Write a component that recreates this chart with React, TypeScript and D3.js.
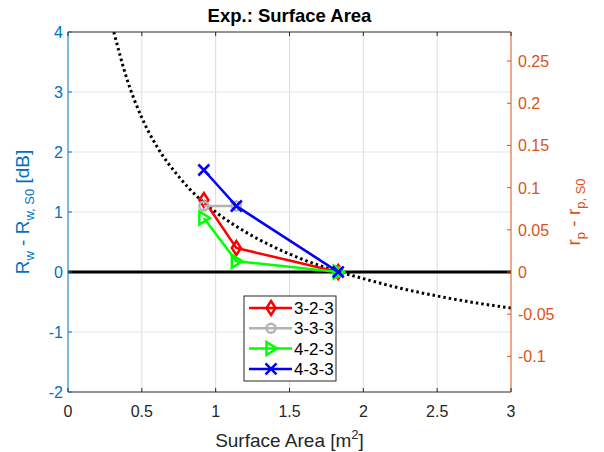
import * as d3 from "d3";

// surface area [m^2] of the measured configurations
const areas = [0.92, 1.14, 1.83];
const seriesNames = ["3-2-3", "3-3-3", "4-2-3", "4-3-3"];
const seriesColors = ["#ff0000", "#b3b3b3", "#00ff00", "#0000ff"];
const seriesMarkers = ["diamond", "circle", "triangle", "x"];
const r323 = [1.2, 0.4, 0];
const r333 = [1.1, 1.1, 0];
const r423 = [0.9, 0.18, 0];
const r433 = [1.7, 1.1, 0];
const seriesValues = [r323, r333, r423, r433];

// dotted reference curve
const curveS = [0.31, 0.4, 0.5, 0.6, 0.75, 0.9, 1.0, 1.2, 1.4, 1.6, 1.84, 2.0, 2.25, 2.5, 2.75, 3.0];
const curveR = [4.0, 3.21, 2.57, 2.1, 1.59, 1.2, 1.0, 0.67, 0.41, 0.2, 0, -0.11, -0.27, -0.4, -0.51, -0.6];

const xTicks = [0, 0.5, 1, 1.5, 2, 2.5, 3];
const yTicks = [-2, -1, 0, 1, 2, 3, 4];
const y2Ticks = [-0.1, -0.05, 0, 0.05, 0.1, 0.15, 0.2, 0.25];

const W = 604;
const H = 452;
const m = { l: 68, r: 511, t: 32, b: 392 };
const font = "'Liberation Sans', Arial, Helvetica, sans-serif";
const blue = "#0072bd";
const orange = "#d95319";

function Marker({ kind, x, y, color }: { kind: string; x: number; y: number; color: string }) {
  if (kind === "diamond")
    return <path d={`M${x},${y - 7}L${x + 4.5},${y}L${x},${y + 7}L${x - 4.5},${y}Z`} fill="none" stroke={color} strokeWidth={2.5} />;
  if (kind === "circle") return <circle cx={x} cy={y} r={4.5} fill="none" stroke={color} strokeWidth={2.5} />;
  if (kind === "triangle")
    return <path d={`M${x - 4.5},${y - 6.5}L${x + 6},${y}L${x - 4.5},${y + 6.5}Z`} fill="none" stroke={color} strokeWidth={2.5} />;
  return (
    <path d={`M${x - 5.5},${y - 5.5}L${x + 5.5},${y + 5.5}M${x - 5.5},${y + 5.5}L${x + 5.5},${y - 5.5}`} stroke={color} strokeWidth={2.5} />
  );
}

export default function App() {
  const x = d3.scaleLinear().domain([0, 3]).range([m.l, m.r]);
  const y = d3.scaleLinear().domain([-2, 4]).range([m.b, m.t]);
  const y2 = d3.scaleLinear().domain([-0.1422, 0.2844]).range([m.b, m.t]);

  const line = d3
    .line<number>()
    .x((_, i) => x(areas[i]))
    .y((d) => y(d));
  const curve = d3
    .line<number>()
    .x((_, i) => x(curveS[i]))
    .y((d) => y(d))
    .curve(d3.curveMonotoneX);

  const legX = 244;
  const legY = 296;

  return (
    <svg width={W} height={H} style={{ position: "absolute", left: 0, top: 0, fontFamily: font }}>
      <rect width={W} height={H} fill="#fff" />
      <defs>
        <clipPath id="plot">
          <rect x={m.l} y={m.t} width={m.r - m.l} height={m.b - m.t} />
        </clipPath>
      </defs>
      {/* grid */}
      {xTicks.slice(1, -1).map((t) => (
        <line key={t} x1={x(t)} x2={x(t)} y1={m.t} y2={m.b} stroke="#dcdcdc" strokeWidth={1} />
      ))}
      {yTicks.slice(1, -1).map((t) => (
        <line key={t} x1={m.l} x2={m.r} y1={y(t)} y2={y(t)} stroke="#d9e7f3" strokeWidth={1} />
      ))}
      <g clipPath="url(#plot)">
        <path d={curve(curveR) ?? ""} fill="none" stroke="#000" strokeWidth={3} strokeDasharray="2.5,3" />
      </g>
      <line x1={m.l} x2={m.r} y1={y(0)} y2={y(0)} stroke="#000" strokeWidth={3} />
      {seriesValues.map((vals, s) => (
        <g key={s}>
          <path d={line(vals) ?? ""} fill="none" stroke={seriesColors[s]} strokeWidth={2.5} />
          {vals.map((v, i) => (
            <Marker key={i} kind={seriesMarkers[s]} x={x(areas[i])} y={y(v)} color={seriesColors[s]} />
          ))}
        </g>
      ))}
      {/* box */}
      <line x1={m.l} x2={m.r} y1={m.t} y2={m.t} stroke="#262626" />
      <line x1={m.l} x2={m.r} y1={m.b} y2={m.b} stroke="#262626" />
      <line x1={m.l} x2={m.l} y1={m.t} y2={m.b} stroke={blue} />
      <line x1={m.r} x2={m.r} y1={m.t} y2={m.b} stroke={orange} />
      {/* x ticks */}
      {xTicks.map((t) => (
        <g key={t}>
          <line x1={x(t)} x2={x(t)} y1={m.b} y2={m.b - 4} stroke="#262626" />
          <line x1={x(t)} x2={x(t)} y1={m.t} y2={m.t + 4} stroke="#262626" />
          <text x={x(t)} y={417} textAnchor="middle" fontSize={16} fill="#262626">
            {t}
          </text>
        </g>
      ))}
      {yTicks.map((t) => (
        <g key={t}>
          <line x1={m.l} x2={m.l + 4} y1={y(t)} y2={y(t)} stroke={blue} />
          <text x={63} y={y(t) + 6} textAnchor="end" fontSize={16} fill={blue}>
            {t}
          </text>
        </g>
      ))}
      {y2Ticks.map((t) => (
        <g key={t}>
          <line x1={m.r} x2={m.r - 4} y1={y2(t)} y2={y2(t)} stroke={orange} />
          <text x={518} y={y2(t) + 6} fontSize={16} fill={orange}>
            {t}
          </text>
        </g>
      ))}
      {/* labels */}
      <text x={(m.l + m.r) / 2} y={22} textAnchor="middle" fontSize={18.5} fontWeight="bold" fill="#000">
        Exp.: Surface Area
      </text>
      <text x={(m.l + m.r) / 2} y={447} textAnchor="middle" fontSize={19} fill="#262626">
        Surface Area [m<tspan dy={-8} fontSize={13}>2</tspan>
        <tspan dy={8}>]</tspan>
      </text>
      <text transform={`translate(29,${(m.t + m.b) / 2}) rotate(-90)`} textAnchor="middle" fontSize={19} fill={blue}>
        R<tspan dy={5} fontSize={13}>w</tspan>
        <tspan dy={-5}> - R</tspan>
        <tspan dy={5} fontSize={13}>w, S0</tspan>
        <tspan dy={-5}> [dB]</tspan>
      </text>
      <text transform={`translate(580,${(m.t + m.b) / 2}) rotate(-90)`} textAnchor="middle" fontSize={19} fill={orange}>
        r<tspan dy={5} fontSize={13}>p</tspan>
        <tspan dy={-5}> - r</tspan>
        <tspan dy={5} fontSize={13}>p, S0</tspan>
      </text>
      {/* legend */}
      <rect x={legX} y={legY} width={92} height={85} fill="#fff" stroke="#262626" strokeWidth={1} />
      {seriesNames.map((n, i) => {
        const ly = legY + 12 + i * 20.3;
        return (
          <g key={n}>
            <line x1={legX + 5} x2={legX + 48} y1={ly} y2={ly} stroke={seriesColors[i]} strokeWidth={2.5} />
            <Marker kind={seriesMarkers[i]} x={legX + 27} y={ly} color={seriesColors[i]} />
            <text x={legX + 50} y={ly + 6} fontSize={17} fill="#000">
              {n}
            </text>
          </g>
        );
      })}
    </svg>
  );
}
